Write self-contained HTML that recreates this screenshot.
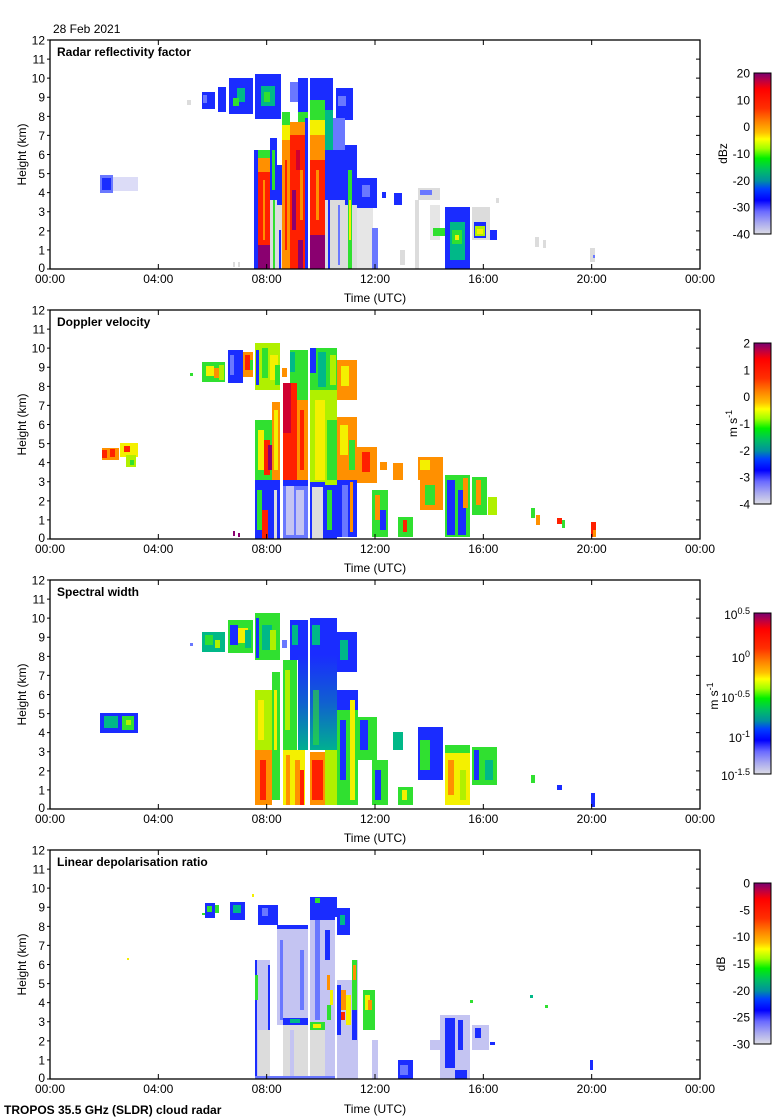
<!DOCTYPE html>
<html><head><meta charset="utf-8"><style>
html,body{margin:0;padding:0;background:#fff;}
svg{display:block;}
.b{fill:#1a2cff}.lb{fill:#6a78ff}.lv{fill:#c4c4f2}.gr{fill:#dcdcdc}.g{fill:#30e030}.tl{fill:#00b888}
.y{fill:#f4f000}.yg{fill:#b0f000}.o{fill:#ff9000}.r{fill:#ff2000}.dr{fill:#d00030}.p{fill:#8a0070}
text{font-family:"Liberation Sans",Arial,sans-serif;font-size:12px;fill:#000;}
.t{font-weight:bold;}
</style></head><body>
<svg width="780" height="1120" viewBox="0 0 780 1120" xmlns="http://www.w3.org/2000/svg">
<defs>
<linearGradient id="cb" x1="0" y1="0" x2="0" y2="1">
<stop offset="0" stop-color="#7a0070"/><stop offset="0.05" stop-color="#c00040"/><stop offset="0.1" stop-color="#ff0000"/>
<stop offset="0.22" stop-color="#ff3000"/><stop offset="0.3" stop-color="#ff8000"/><stop offset="0.37" stop-color="#ffc000"/>
<stop offset="0.41" stop-color="#ffff00"/><stop offset="0.47" stop-color="#a0ff00"/><stop offset="0.53" stop-color="#00f000"/>
<stop offset="0.6" stop-color="#00c060"/><stop offset="0.67" stop-color="#0090a0"/><stop offset="0.72" stop-color="#0040ff"/>
<stop offset="0.79" stop-color="#0000ff"/><stop offset="0.86" stop-color="#6a6aff"/><stop offset="0.93" stop-color="#a8a8f0"/>
<stop offset="1" stop-color="#dcdce4"/>
</linearGradient>
<linearGradient id="bt" x1="0" y1="0" x2="0" y2="1">
<stop offset="0" stop-color="#1a2cff"/><stop offset="0.5" stop-color="#1060d0"/><stop offset="1" stop-color="#00b090"/>
</linearGradient>
<path id="tk" d="M47,249.92H50M47,230.83H50M47,211.75H50M47,192.67H50M47,173.58H50M47,154.5H50M47,135.42H50M47,116.33H50M47,97.25H50M47,78.17H50M47,59.08H50M47,40H50M47,269H50
M696,249.92H700M696,230.83H700M696,211.75H700M696,192.67H700M696,173.58H700M696,154.5H700M696,135.42H700M696,116.33H700M696,97.25H700M696,78.17H700M696,59.08H700
M158.33,269V264M266.67,269V264M375,269V264M483.33,269V264M591.67,269V264
M158.33,40V45M266.67,40V45M375,40V45M483.33,40V45M591.67,40V45" stroke="#000" stroke-width="1" fill="none"/>
</defs>
<rect width="780" height="1120" fill="#fff"/>

<!-- ============ PANEL 1 DATA ============ -->
<g>
<rect x="100" y="175" width="13" height="18" class="lb"/><rect x="102" y="178" width="9" height="12" class="b"/><rect x="113" y="177" width="25" height="14" class="lv" opacity="0.6"/>
<rect x="187" y="100" width="4" height="5" class="gr"/>
<rect x="202" y="92" width="13" height="17" class="b"/><rect x="203" y="95" width="4" height="8" class="lb"/>
<rect x="218" y="87" width="8" height="25" class="b"/>
<rect x="229" y="78" width="24" height="36" class="b"/><rect x="237" y="88" width="8" height="14" class="tl"/><rect x="233" y="98" width="6" height="8" class="g"/>
<rect x="255" y="74" width="26" height="45" class="b"/><rect x="261" y="86" width="14" height="20" class="tl"/><rect x="264" y="92" width="6" height="10" class="g"/>
<rect x="290" y="82" width="10" height="20" class="lb"/>
<rect x="336" y="88" width="17" height="32" class="b"/><rect x="338" y="96" width="8" height="10" class="lb"/>
<rect x="298" y="78" width="10" height="34" class="b"/><rect x="298" y="112" width="10" height="12" class="g"/>
<rect x="254" y="150" width="4" height="119" class="b"/>
<rect x="258" y="150" width="12" height="8" class="g"/><rect x="258" y="158" width="12" height="14" class="o"/><rect x="258" y="172" width="12" height="73" class="r"/><rect x="258" y="245" width="12" height="24" class="p"/><rect x="263" y="180" width="2" height="60" class="o"/>
<rect x="270" y="138" width="7" height="62" class="b"/><rect x="272" y="150" width="3" height="40" class="g"/><rect x="270" y="200" width="7" height="69" class="gr"/><rect x="273" y="200" width="2" height="69" class="g"/>
<rect x="277" y="165" width="5" height="40" class="b"/><rect x="277" y="205" width="5" height="64" class="gr"/><rect x="279" y="230" width="2" height="39" class="b"/>
<rect x="282" y="112" width="8" height="13" class="g"/><rect x="282" y="125" width="8" height="15" class="y"/><rect x="282" y="140" width="8" height="129" class="o"/><rect x="285" y="160" width="2" height="90" class="r"/>
<rect x="290" y="122" width="15" height="13" class="o"/><rect x="290" y="135" width="15" height="134" class="r"/><rect x="292" y="190" width="4" height="40" class="p"/><rect x="298" y="240" width="5" height="29" class="p"/><rect x="296" y="150" width="4" height="20" class="dr"/><rect x="300" y="170" width="3" height="50" class="o"/>
<rect x="305" y="118" width="3" height="151" class="b"/>
<rect x="310" y="78" width="15" height="22" class="b"/><rect x="310" y="100" width="15" height="20" class="g"/><rect x="310" y="120" width="15" height="15" class="y"/><rect x="310" y="135" width="15" height="25" class="o"/><rect x="310" y="160" width="15" height="75" class="r"/><rect x="310" y="235" width="15" height="34" class="p"/><rect x="316" y="170" width="3" height="50" class="o"/>
<rect x="325" y="78" width="8" height="32" class="b"/><rect x="325" y="110" width="8" height="40" class="tl"/><rect x="325" y="150" width="8" height="50" class="b"/><rect x="325" y="200" width="8" height="69" class="gr"/><rect x="328" y="200" width="2" height="69" class="b"/>
<rect x="333" y="118" width="12" height="32" class="lb"/><rect x="333" y="150" width="12" height="50" class="b"/><rect x="333" y="200" width="12" height="69" class="gr"/><rect x="338" y="205" width="2" height="60" class="lb"/>
<rect x="345" y="145" width="12" height="60" class="b"/><rect x="345" y="205" width="12" height="64" class="gr"/>
<rect x="348" y="170" width="4" height="99" class="g"/><rect x="349" y="200" width="2" height="40" class="y"/>
<rect x="355" y="205" width="18" height="64" class="gr" opacity="0.7"/>
<rect x="357" y="178" width="20" height="30" class="b"/><rect x="362" y="185" width="8" height="12" class="lb"/>
<rect x="372" y="228" width="6" height="41" class="lb"/>
<rect x="382" y="192" width="4" height="6" class="b"/><rect x="394" y="193" width="8" height="12" class="b"/>
<rect x="418" y="188" width="22" height="12" class="gr"/><rect x="420" y="190" width="12" height="5" class="lb"/>
<rect x="415" y="200" width="4" height="69" class="gr"/><rect x="400" y="250" width="5" height="15" class="gr"/>
<rect x="430" y="205" width="10" height="35" class="gr" opacity="0.7"/>
<rect x="445" y="207" width="25" height="62" class="b"/><rect x="450" y="222" width="15" height="38" class="tl"/><rect x="452" y="230" width="10" height="14" class="g"/><rect x="455" y="235" width="4" height="5" class="y"/>
<rect x="433" y="228" width="12" height="8" class="g"/>
<rect x="472" y="207" width="18" height="33" class="gr"/><rect x="474" y="222" width="12" height="16" class="b"/><rect x="475" y="226" width="10" height="10" class="yg"/><rect x="477" y="229" width="6" height="5" class="y"/>
<rect x="490" y="230" width="7" height="10" class="b"/><rect x="496" y="198" width="3" height="5" class="gr"/>
<rect x="535" y="237" width="4" height="10" class="gr"/><rect x="543" y="240" width="3" height="8" class="gr"/>
<rect x="590" y="248" width="5" height="14" class="gr"/><rect x="593" y="255" width="2" height="3" class="lb"/>
<rect x="233" y="262" width="2" height="5" class="gr"/><rect x="238" y="262" width="2" height="5" class="gr"/>
</g>

<!-- ============ PANEL 2 DATA ============ -->
<g>
<rect x="102" y="448" width="17" height="12" class="o"/><rect x="102" y="450" width="5" height="8" class="r"/><rect x="110" y="449" width="5" height="8" class="r"/>
<rect x="120" y="443" width="18" height="14" class="y"/><rect x="124" y="446" width="6" height="6" class="r"/><rect x="126" y="455" width="10" height="12" class="yg"/><rect x="130" y="460" width="4" height="5" class="g"/>
<rect x="190" y="373" width="3" height="3" class="g"/>
<rect x="202" y="362" width="23" height="20" class="g"/><rect x="206" y="366" width="8" height="10" class="y"/><rect x="214" y="368" width="6" height="10" class="o"/><rect x="219" y="365" width="5" height="15" class="yg"/>
<rect x="228" y="350" width="15" height="33" class="b"/><rect x="230" y="355" width="4" height="20" class="lb"/>
<rect x="243" y="352" width="10" height="25" class="o"/><rect x="245" y="355" width="5" height="15" class="r"/><rect x="250" y="360" width="3" height="10" class="g"/>
<rect x="255" y="343" width="25" height="47" class="yg"/><rect x="256" y="350" width="3" height="35" class="b"/><rect x="262" y="348" width="6" height="30" class="g"/><rect x="270" y="355" width="8" height="25" class="y"/><rect x="275" y="365" width="5" height="20" class="g"/>
<rect x="282" y="368" width="5" height="9" class="o"/>
<rect x="290" y="350" width="18" height="37" class="g"/><rect x="290" y="352" width="5" height="20" class="tl"/>
<rect x="310" y="348" width="27" height="42" class="g"/><rect x="310" y="348" width="6" height="25" class="b"/><rect x="318" y="352" width="8" height="35" class="tl"/><rect x="330" y="355" width="6" height="30" class="yg"/>
<rect x="337" y="360" width="20" height="40" class="o"/><rect x="341" y="366" width="8" height="20" class="y"/>
<rect x="283" y="383" width="14" height="97" class="r"/><rect x="283" y="383" width="8" height="50" class="dr"/>
<rect x="297" y="350" width="11" height="50" class="g"/><rect x="297" y="400" width="11" height="80" class="o"/><rect x="300" y="410" width="4" height="60" class="r"/>
<rect x="310" y="390" width="27" height="95" class="yg"/><rect x="315" y="400" width="10" height="80" class="y"/><rect x="327" y="420" width="10" height="60" class="g"/>
<rect x="272" y="402" width="8" height="78" class="o"/><rect x="274" y="410" width="4" height="60" class="y"/>
<rect x="255" y="420" width="17" height="60" class="g"/><rect x="258" y="430" width="6" height="40" class="y"/><rect x="264" y="440" width="6" height="35" class="r"/><rect x="268" y="445" width="4" height="25" class="p"/>
<rect x="255" y="480" width="17" height="59" class="b"/><rect x="257" y="490" width="5" height="40" class="g"/><rect x="262" y="510" width="6" height="29" class="r"/>
<rect x="272" y="480" width="8" height="59" class="b"/><rect x="274" y="490" width="3" height="49" class="gr"/>
<rect x="283" y="480" width="25" height="59" class="lb"/><rect x="286" y="485" width="8" height="50" class="lv"/><rect x="296" y="490" width="8" height="45" class="lv"/><rect x="283" y="480" width="25" height="6" class="b"/>
<rect x="310" y="482" width="15" height="57" class="gr"/><rect x="310" y="482" width="15" height="5" class="b"/><rect x="310" y="482" width="2" height="57" class="b"/><rect x="323" y="482" width="2" height="57" class="b"/>
<rect x="325" y="485" width="12" height="54" class="b"/><rect x="327" y="490" width="5" height="40" class="g"/>
<rect x="337" y="417" width="20" height="63" class="o"/><rect x="340" y="425" width="8" height="30" class="y"/><rect x="349" y="440" width="6" height="30" class="g"/>
<rect x="337" y="480" width="20" height="57" class="b"/><rect x="342" y="485" width="6" height="52" class="lb"/><rect x="350" y="482" width="3" height="50" class="o"/>
<rect x="357" y="447" width="20" height="36" class="o"/><rect x="362" y="452" width="8" height="20" class="r"/>
<rect x="372" y="490" width="16" height="47" class="g"/><rect x="375" y="495" width="5" height="25" class="o"/><rect x="380" y="510" width="6" height="20" class="b"/>
<rect x="380" y="462" width="7" height="8" class="o"/><rect x="393" y="463" width="10" height="17" class="o"/>
<rect x="398" y="517" width="15" height="20" class="g"/><rect x="403" y="520" width="4" height="12" class="r"/>
<rect x="418" y="457" width="25" height="23" class="o"/><rect x="420" y="460" width="10" height="10" class="y"/>
<rect x="420" y="480" width="23" height="30" class="o"/><rect x="425" y="485" width="10" height="20" class="g"/>
<rect x="445" y="475" width="25" height="62" class="g"/><rect x="447" y="480" width="8" height="55" class="b"/><rect x="458" y="490" width="8" height="45" class="b"/><rect x="463" y="478" width="5" height="30" class="o"/>
<rect x="472" y="477" width="15" height="38" class="g"/><rect x="476" y="480" width="5" height="25" class="o"/>
<rect x="488" y="497" width="9" height="18" class="yg"/>
<rect x="531" y="508" width="4" height="10" class="g"/><rect x="536" y="515" width="4" height="10" class="o"/><rect x="557" y="518" width="5" height="6" class="r"/><rect x="562" y="520" width="3" height="8" class="g"/>
<rect x="591" y="522" width="5" height="15" class="r"/><rect x="593" y="530" width="3" height="7" class="o"/>
<rect x="233" y="531" width="2" height="5" class="p"/><rect x="238" y="533" width="2" height="4" class="p"/>
</g>

<!-- ============ PANEL 3 DATA ============ -->
<g>
<rect x="100" y="713" width="38" height="20" class="b"/><rect x="104" y="716" width="14" height="12" class="tl"/><rect x="122" y="716" width="12" height="14" class="g"/><rect x="126" y="720" width="5" height="5" class="yg"/>
<rect x="190" y="643" width="3" height="3" class="lb"/>
<rect x="202" y="632" width="23" height="20" class="tl"/><rect x="205" y="635" width="8" height="10" class="g"/><rect x="215" y="640" width="5" height="8" class="yg"/>
<rect x="228" y="620" width="25" height="33" class="g"/><rect x="230" y="625" width="8" height="20" class="b"/><rect x="238" y="628" width="10" height="15" class="y"/><rect x="245" y="630" width="6" height="18" class="tl"/>
<rect x="255" y="613" width="25" height="47" class="g"/><rect x="256" y="618" width="3" height="40" class="b"/><rect x="262" y="625" width="10" height="25" class="tl"/><rect x="270" y="630" width="6" height="20" class="yg"/>
<rect x="282" y="640" width="5" height="8" class="lb"/>
<rect x="290" y="620" width="18" height="40" class="b"/><rect x="292" y="625" width="6" height="20" class="tl"/>
<rect x="310" y="618" width="27" height="42" class="b"/><rect x="312" y="625" width="8" height="20" class="tl"/>
<rect x="337" y="632" width="20" height="40" class="b"/><rect x="340" y="640" width="8" height="20" class="tl"/>
<rect x="298" y="655" width="10" height="95" fill="url(#bt)"/>
<rect x="310" y="655" width="27" height="95" fill="url(#bt)"/><rect x="313" y="690" width="6" height="55" class="g" opacity="0.6"/>
<rect x="283" y="660" width="14" height="90" class="g"/><rect x="285" y="670" width="5" height="60" class="yg"/>
<rect x="272" y="672" width="8" height="128" class="g"/><rect x="274" y="690" width="3" height="60" class="y"/>
<rect x="255" y="690" width="17" height="60" class="yg"/><rect x="258" y="700" width="6" height="40" class="y"/>
<rect x="255" y="750" width="17" height="55" class="o"/><rect x="260" y="760" width="6" height="40" class="r"/>
<rect x="283" y="750" width="22" height="55" class="y"/><rect x="286" y="755" width="4" height="50" class="o"/><rect x="295" y="760" width="5" height="45" class="o"/><rect x="300" y="770" width="4" height="35" class="r"/>
<rect x="310" y="752" width="15" height="53" class="o"/><rect x="312" y="760" width="11" height="40" class="r"/>
<rect x="325" y="750" width="12" height="55" class="yg"/>
<rect x="337" y="690" width="21" height="115" class="g"/><rect x="337" y="690" width="21" height="20" class="b"/><rect x="340" y="720" width="6" height="60" class="b"/><rect x="350" y="700" width="5" height="100" class="y"/>
<rect x="357" y="717" width="20" height="43" class="g"/><rect x="360" y="720" width="8" height="30" class="b"/>
<rect x="372" y="760" width="16" height="45" class="g"/><rect x="375" y="770" width="6" height="30" class="b"/>
<rect x="393" y="732" width="10" height="18" class="tl"/>
<rect x="398" y="787" width="15" height="18" class="g"/><rect x="402" y="790" width="5" height="10" class="y"/>
<rect x="418" y="727" width="25" height="53" class="b"/><rect x="420" y="740" width="10" height="30" class="g"/>
<rect x="445" y="745" width="25" height="60" class="y"/><rect x="445" y="745" width="25" height="8" class="g"/><rect x="448" y="760" width="6" height="35" class="o"/><rect x="460" y="770" width="6" height="30" class="yg"/>
<rect x="472" y="747" width="25" height="38" class="g"/><rect x="474" y="750" width="5" height="30" class="b"/><rect x="485" y="760" width="8" height="20" class="tl"/>
<rect x="531" y="775" width="4" height="8" class="g"/><rect x="557" y="785" width="5" height="5" class="b"/><rect x="591" y="793" width="4" height="14" class="b"/>
</g>

<!-- ============ PANEL 4 DATA ============ -->
<g>
<rect x="205" y="903" width="10" height="15" class="b"/><rect x="207" y="906" width="5" height="6" class="g"/><rect x="215" y="905" width="4" height="8" class="g"/>
<rect x="230" y="902" width="15" height="18" class="b"/><rect x="233" y="905" width="8" height="8" class="tl"/>
<rect x="258" y="905" width="20" height="20" class="b"/><rect x="262" y="908" width="6" height="8" class="lb"/>
<rect x="310" y="897" width="27" height="20" class="b"/><rect x="315" y="898" width="5" height="5" class="g"/>
<rect x="337" y="908" width="13" height="27" class="b"/><rect x="340" y="915" width="5" height="10" class="tl"/>
<rect x="202" y="913" width="3" height="2" class="g"/><rect x="252" y="894" width="2" height="3" class="y"/><rect x="127" y="958" width="2" height="2" class="y"/>
<rect x="255" y="960" width="15" height="119" class="lv"/><rect x="255" y="960" width="2" height="119" class="b"/><rect x="268" y="965" width="2" height="70" class="b"/><rect x="258" y="1030" width="12" height="49" class="gr"/>
<rect x="255" y="975" width="3" height="25" class="g"/>
<rect x="277" y="925" width="31" height="100" class="lv"/><rect x="277" y="925" width="31" height="4" class="b"/><rect x="280" y="940" width="3" height="80" class="lb"/><rect x="300" y="950" width="4" height="60" class="lb"/>
<rect x="310" y="915" width="25" height="110" class="lv"/><rect x="310" y="915" width="25" height="5" class="b"/><rect x="315" y="920" width="5" height="100" class="lb"/><rect x="325" y="930" width="5" height="80" class="b"/>
<rect x="283" y="1018" width="25" height="7" class="b"/><rect x="290" y="1019" width="10" height="4" class="tl"/><rect x="310" y="1022" width="15" height="8" class="g"/><rect x="313" y="1024" width="8" height="4" class="y"/>
<rect x="283" y="1025" width="25" height="54" class="gr"/><rect x="310" y="1030" width="15" height="49" class="gr"/><rect x="290" y="1030" width="4" height="49" class="lv"/>
<rect x="325" y="960" width="10" height="119" class="lv"/><rect x="327" y="975" width="3" height="15" class="o"/><rect x="330" y="990" width="3" height="15" class="y"/><rect x="327" y="1005" width="4" height="15" class="g"/>
<rect x="337" y="980" width="15" height="99" class="lv"/><rect x="337" y="985" width="4" height="50" class="b"/><rect x="341" y="990" width="5" height="20" class="o"/><rect x="346" y="995" width="5" height="30" class="y"/><rect x="341" y="1012" width="4" height="8" class="r"/>
<rect x="352" y="960" width="6" height="119" class="lv"/><rect x="352" y="960" width="5" height="50" class="g"/><rect x="353" y="965" width="3" height="15" class="o"/><rect x="352" y="1010" width="5" height="30" class="b"/>
<rect x="363" y="990" width="12" height="40" class="g"/><rect x="365" y="995" width="5" height="15" class="y"/><rect x="368" y="1000" width="4" height="10" class="o"/>
<rect x="372" y="1040" width="6" height="39" class="lv"/>
<rect x="255" y="1076" width="80" height="3" class="lb"/>
<rect x="398" y="1060" width="15" height="19" class="b"/><rect x="400" y="1065" width="8" height="10" class="lb"/>
<rect x="430" y="1040" width="15" height="10" class="lv"/>
<rect x="440" y="1015" width="30" height="64" class="lv"/><rect x="445" y="1018" width="10" height="50" class="b"/><rect x="458" y="1020" width="5" height="30" class="b"/><rect x="455" y="1070" width="12" height="9" class="b"/>
<rect x="472" y="1025" width="17" height="25" class="lv"/><rect x="475" y="1028" width="6" height="10" class="b"/>
<rect x="490" y="1042" width="5" height="3" class="b"/>
<rect x="530" y="995" width="3" height="3" class="tl"/><rect x="545" y="1005" width="3" height="3" class="g"/><rect x="590" y="1060" width="3" height="10" class="b"/><rect x="470" y="1000" width="3" height="3" class="g"/>
</g>

<!-- ============ AXES ============ -->
<g fill="none" stroke="#000" stroke-width="1.3">
<rect x="50" y="40" width="650" height="229"/>
<rect x="50" y="310" width="650" height="229"/>
<rect x="50" y="580" width="650" height="229"/>
<rect x="50" y="850" width="650" height="229"/>
</g>
<use href="#tk"/>
<use href="#tk" y="270"/>
<use href="#tk" y="540"/>
<use href="#tk" y="810"/>

<g stroke="#000" stroke-width="1">
<rect x="754" y="73" width="17" height="161" fill="url(#cb)"/>
<rect x="754" y="343" width="17" height="161" fill="url(#cb)"/>
<rect x="754" y="613" width="17" height="161" fill="url(#cb)"/>
<rect x="754" y="883" width="17" height="161" fill="url(#cb)"/>
</g>

<text x="53" y="33">28 Feb 2021</text>

<text x="57" y="56" class="t">Radar reflectivity factor</text>
<g text-anchor="end">
<text x="45" y="272">0</text><text x="45" y="254.4">1</text><text x="45" y="235.3">2</text><text x="45" y="216.2">3</text><text x="45" y="197.1">4</text><text x="45" y="178">5</text><text x="45" y="159">6</text><text x="45" y="139.9">7</text><text x="45" y="120.8">8</text><text x="45" y="101.7">9</text><text x="45" y="82.6">10</text><text x="45" y="63.5">11</text><text x="45" y="44.5">12</text>
</g>
<g text-anchor="middle">
<text x="50" y="283">00:00</text><text x="158.3" y="283">04:00</text><text x="266.7" y="283">08:00</text><text x="375" y="283">12:00</text><text x="483.3" y="283">16:00</text><text x="591.7" y="283">20:00</text><text x="700" y="283">00:00</text>
<text x="375" y="302">Time (UTC)</text>
<text transform="translate(26,154.5) rotate(-90)">Height (km)</text>
<text transform="translate(727,153.5) rotate(-90)">dBz</text>
</g>
<g text-anchor="end">
<text x="750" y="77.5">20</text><text x="750" y="104.3">10</text><text x="750" y="131.2">0</text><text x="750" y="158">-10</text><text x="750" y="184.8">-20</text><text x="750" y="211.7">-30</text><text x="750" y="238.5">-40</text>
</g>

<text x="57" y="326" class="t">Doppler velocity</text>
<g text-anchor="end">
<text x="45" y="542">0</text><text x="45" y="524.4">1</text><text x="45" y="505.3">2</text><text x="45" y="486.2">3</text><text x="45" y="467.1">4</text><text x="45" y="448">5</text><text x="45" y="429">6</text><text x="45" y="409.9">7</text><text x="45" y="390.8">8</text><text x="45" y="371.7">9</text><text x="45" y="352.6">10</text><text x="45" y="333.5">11</text><text x="45" y="314.5">12</text>
</g>
<g text-anchor="middle">
<text x="50" y="553">00:00</text><text x="158.3" y="553">04:00</text><text x="266.7" y="553">08:00</text><text x="375" y="553">12:00</text><text x="483.3" y="553">16:00</text><text x="591.7" y="553">20:00</text><text x="700" y="553">00:00</text>
<text x="375" y="572">Time (UTC)</text>
<text transform="translate(26,424.5) rotate(-90)">Height (km)</text>
<text transform="translate(737,423.5) rotate(-90)">m s<tspan font-size="9" dy="-5">-1</tspan></text>
</g>
<g text-anchor="end">
<text x="750" y="347.5">2</text><text x="750" y="374.3">1</text><text x="750" y="401.2">0</text><text x="750" y="428">-1</text><text x="750" y="454.8">-2</text><text x="750" y="481.7">-3</text><text x="750" y="508.5">-4</text>
</g>

<text x="57" y="596" class="t">Spectral width</text>
<g text-anchor="end">
<text x="45" y="812">0</text><text x="45" y="794.4">1</text><text x="45" y="775.3">2</text><text x="45" y="756.2">3</text><text x="45" y="737.1">4</text><text x="45" y="718">5</text><text x="45" y="699">6</text><text x="45" y="679.9">7</text><text x="45" y="660.8">8</text><text x="45" y="641.7">9</text><text x="45" y="622.6">10</text><text x="45" y="603.5">11</text><text x="45" y="584.5">12</text>
</g>
<g text-anchor="middle">
<text x="50" y="823">00:00</text><text x="158.3" y="823">04:00</text><text x="266.7" y="823">08:00</text><text x="375" y="823">12:00</text><text x="483.3" y="823">16:00</text><text x="591.7" y="823">20:00</text><text x="700" y="823">00:00</text>
<text x="375" y="842">Time (UTC)</text>
<text transform="translate(26,694.5) rotate(-90)">Height (km)</text>
<text transform="translate(718,696) rotate(-90)">m s<tspan font-size="9" dy="-5">-1</tspan></text>
</g>
<g text-anchor="end">
<text x="750" y="619">10<tspan font-size="9" dy="-5">0.5</tspan></text>
<text x="750" y="662">10<tspan font-size="9" dy="-5">0</tspan></text>
<text x="750" y="702">10<tspan font-size="9" dy="-5">-0.5</tspan></text>
<text x="750" y="742">10<tspan font-size="9" dy="-5">-1</tspan></text>
<text x="750" y="780">10<tspan font-size="9" dy="-5">-1.5</tspan></text>
</g>

<text x="57" y="866" class="t">Linear depolarisation ratio</text>
<g text-anchor="end">
<text x="45" y="1082">0</text><text x="45" y="1064.4">1</text><text x="45" y="1045.3">2</text><text x="45" y="1026.2">3</text><text x="45" y="1007.1">4</text><text x="45" y="988">5</text><text x="45" y="969">6</text><text x="45" y="949.9">7</text><text x="45" y="930.8">8</text><text x="45" y="911.7">9</text><text x="45" y="892.6">10</text><text x="45" y="873.5">11</text><text x="45" y="854.5">12</text>
</g>
<g text-anchor="middle">
<text x="50" y="1093">00:00</text><text x="158.3" y="1093">04:00</text><text x="266.7" y="1093">08:00</text><text x="375" y="1093">12:00</text><text x="483.3" y="1093">16:00</text><text x="591.7" y="1093">20:00</text><text x="700" y="1093">00:00</text>
<text x="375" y="1113">Time (UTC)</text>
<text transform="translate(26,964.5) rotate(-90)">Height (km)</text>
<text transform="translate(725,964) rotate(-90)">dB</text>
</g>
<g text-anchor="end">
<text x="750" y="887.5">0</text><text x="750" y="914.3">-5</text><text x="750" y="941.2">-10</text><text x="750" y="968">-15</text><text x="750" y="994.8">-20</text><text x="750" y="1021.7">-25</text><text x="750" y="1048.5">-30</text>
</g>

<text x="4" y="1114" class="t">TROPOS 35.5 GHz (SLDR) cloud radar</text>
</svg>
</body></html>
